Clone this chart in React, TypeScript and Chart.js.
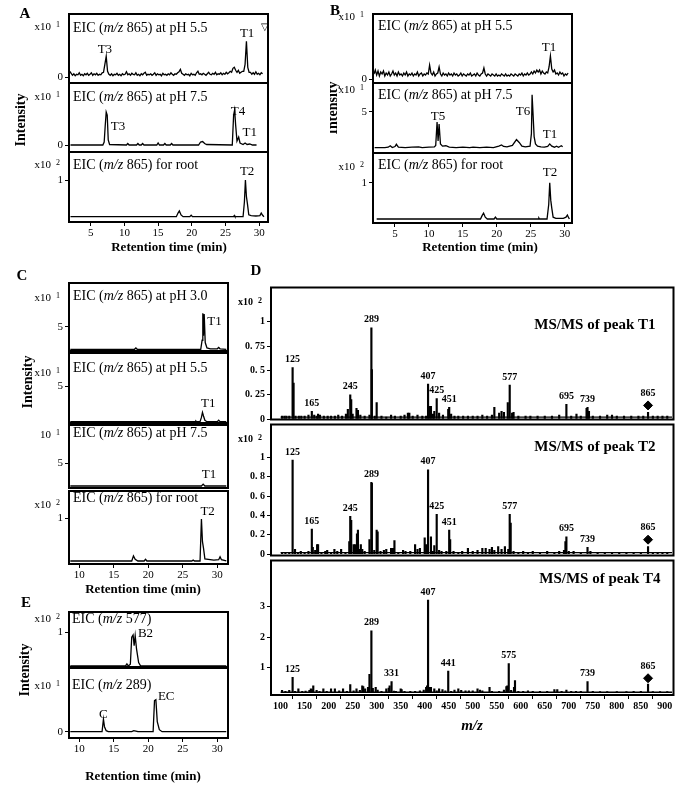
import React, { useEffect, useRef } from 'react';
import { Chart, registerables } from 'chart.js';
Chart.register(...registerables);

const SERIF = '"Liberation Serif", "Times New Roman", Times, serif';
Chart.defaults.font.family = SERIF;

// ---------------- DATA ----------------
const RT_TICKS_AB = [5, 10, 15, 20, 25, 30];
const RT_TICKS_CE = [10, 15, 20, 25, 30];
const MZ_TICKS = [100, 150, 200, 250, 300, 350, 400, 450, 500, 550, 600, 650, 700, 750, 800, 850, 900];

// uniformly sampled noisy traces (start time, step in min, values)
const A1_START = 1.9;
const A1_STEP = 0.2;
const A1_PH55 = [
  0.6, 0.4, 0.2, 0.35, 0.15, 0.3, 0.25, 0.45, 0.2, 0.3,
  0.15, 0.35, 0.25, 0.4, 0.2, 0.3, 0.45, 0.2, 0.35, 0.25,
  0.4, 0.2, 0.3, 0.25, 0.45, 0.5, 1.3, 2.1, 0.6, 0.3,
  0.2, 0.35, 0.15, 0.3, 0.25, 0.4, 0.2, 0.3, 0.15, 0.35,
  0.25, 0.3, 0.55, 0.25, 0.35, 0.2, 0.4, 0.3, 0.25, 0.45,
  0.2, 0.3, 0.15, 0.35, 0.25, 0.4, 0.5, 0.2, 0.3, 0.25,
  0.35, 0.2, 0.3, 0.45, 0.2, 0.35, 0.25, 0.3, 0.15, 0.4,
  0.25, 0.3, 0.2, 0.35, 0.25, 0.45, 0.3, 0.2, 0.35, 0.3,
  0.45, 0.55, 0.8, 0.4, 0.3, 0.2, 0.35, 0.25, 0.3, 0.15,
  0.4, 0.25, 0.3, 0.2, 0.45, 0.6, 0.3, 0.35, 0.25, 0.4,
  0.3, 0.2, 0.35, 0.5, 0.3, 0.25, 0.4, 0.3, 0.5, 0.25,
  0.35, 0.3, 0.45, 0.25, 0.4, 0.3, 0.5, 0.35, 0.45, 0.6,
  0.5, 0.9, 1.0, 0.7, 0.5, 0.7, 0.4, 0.5, 0.6, 0.6,
  1.3, 3.6, 1.0, 0.5, 0.5, 0.3, 0.45, 0.3, 0.55, 0.3,
  0.4, 0.25, 0.45, 0.35,
];
const B1_START = 1.9;
const B1_STEP = 0.2;
const B1_PH55 = [
  0.5, 0.9, 0.4, 0.8, 0.3, 0.7, 0.5, 0.8, 0.3, 0.6,
  0.4, 0.7, 0.3, 0.5, 0.8, 0.4, 0.6, 0.3, 0.7, 0.4,
  0.5, 0.3, 0.6, 0.4, 0.7, 0.3, 0.5, 0.4, 0.6, 0.3,
  0.5, 0.4, 0.7, 0.3, 0.5, 0.6, 0.3, 0.5, 0.4, 0.6,
  0.5, 1.4, 0.6, 0.4, 0.7, 0.3, 0.5, 0.6, 1.2, 0.5,
  0.3, 0.6, 0.4, 0.5, 0.3, 0.6, 0.4, 0.5, 0.3, 0.6,
  0.4, 0.5, 0.3, 0.4, 0.6, 0.3, 0.5, 0.4, 0.3, 0.5,
  0.4, 0.6, 0.3, 0.4, 0.5, 0.3, 0.6, 0.4, 0.3, 0.5,
  0.6, 1.1, 0.5, 0.3, 0.5, 0.4, 0.3, 0.5, 0.4, 0.3,
  0.5, 0.3, 0.4, 0.3, 0.5, 0.4, 0.3, 0.5, 0.3, 0.4,
  0.3, 0.5, 0.4, 0.3, 0.5, 0.4, 0.3, 0.5, 0.4, 0.6,
  0.3, 0.5, 0.4, 0.6, 0.4, 0.5, 0.7, 0.5, 0.8, 0.6,
  0.9, 0.7, 0.9, 0.5, 0.8, 0.6, 0.5, 0.7, 0.6, 1.2,
  2.3, 1.0, 0.7, 0.9, 0.5, 0.6, 0.4, 0.7, 0.5, 0.6,
  0.3, 0.5, 0.4, 0.6,
];

// [retention time, intensity] pairs
const A2_PH75: [number, number][] = [
  [2.0, 0], [6.8, 0], [7.0, 0.3], [7.15, 1.9], [7.3, 3.3], [7.45, 3.0], [7.6, 0.5], [7.8, 0.05],
  [10.3, 0], [10.5, 0.15], [10.7, 0], [11.8, 0], [12.0, 0.15], [12.2, 0], [12.5, 0], [12.7, 0.15], [12.9, 0],
  [14.8, 0], [15.0, 0.2], [15.2, 0], [15.8, 0], [16.0, 0.15], [16.2, 0], [16.8, 0], [17.0, 0.15], [17.2, 0],
  [21.0, 0], [21.3, 0.3], [21.6, 0.35], [21.9, 0.15], [22.2, 0.05], [26.0, 0], [26.2, 3.0], [26.35, 3.5],
  [26.5, 2.0], [26.7, 0.4], [26.95, 0.8], [27.15, 0.2], [27.6, 0.05], [27.9, 0.2], [28.2, 0.05], [28.6, 0.1],
  [29.0, 0], [29.6, 0],
];
const A3_ROOT: [number, number][] = [
  [2.0, 0], [17.7, 0], [17.95, 0.1], [18.15, 0.16], [18.4, 0.05], [18.7, 0], [19.7, 0], [19.9, 0.04], [20.1, 0],
  [26.2, 0], [26.3, 0.03], [26.4, 0], [27.6, 0], [27.8, 0.4], [27.95, 1.0], [28.1, 0.55], [28.25, 0.35],
  [28.45, 0.05], [28.8, 0.03], [29.5, 0.02], [30.1, 0.03], [30.3, 0.1], [30.5, 0.04], [30.7, 0],
];
const B2_PH75: [number, number][] = [
  [2.0, 0.1], [3.5, 0.1], [4.0, 0.15], [4.3, 0.35], [4.6, 0.1], [5.0, 0.25], [5.2, 0.55], [5.5, 0.15],
  [6.5, 0.1], [7.5, 0.15], [8.5, 0.2], [9.0, 0.1], [10.0, 0.15], [10.8, 0.2], [11.0, 0.4], [11.2, 3.6],
  [11.35, 1.0], [11.5, 3.3], [11.7, 0.6], [12.0, 0.3], [12.5, 0.35], [13.0, 0.15], [14.0, 0.1], [15.0, 0.15],
  [16.0, 0.1], [16.5, 0.15], [17.5, 0.1], [18.5, 0.15], [19.5, 0.1], [20.3, 0.3], [20.7, 0.45], [21.0, 0.25],
  [21.5, 0.2], [22.3, 0.4], [22.9, 1.2], [23.3, 0.8], [23.7, 0.3], [24.2, 0.2], [24.9, 0.3], [25.1, 2.0],
  [25.2, 7.3], [25.35, 4.5], [25.5, 1.6], [25.7, 0.6], [26.0, 0.3], [26.5, 0.2], [27.0, 0.15], [27.5, 0.25],
  [27.8, 0.6], [28.1, 0.3], [28.5, 0.15], [28.8, 0.3], [29.1, 0.15], [29.5, 0.35], [29.7, 0.2],
];
const B3_ROOT: [number, number][] = [
  [2.3, 0], [17.6, 0], [17.85, 0.1], [18.05, 0.16], [18.3, 0.05], [18.6, 0], [19.6, 0], [19.8, 0.05], [20.0, 0],
  [26.1, 0], [26.2, 0.03], [26.3, 0], [27.4, 0], [27.65, 0.4], [27.8, 1.0], [27.95, 0.52], [28.1, 0.3],
  [28.3, 0.05], [28.7, 0.02], [29.8, 0.02], [30.2, 0.05], [30.4, 0.11], [30.6, 0.03], [30.7, 0],
];
const C1_PH30: [number, number][] = [
  [8.7, 0], [18.0, 0], [18.2, 0.3], [18.4, 0], [27.6, 0], [27.8, 2.0], [27.9, 8.0], [28.0, 3.0], [28.1, 7.8],
  [28.25, 1.5], [28.5, 0.3], [29.0, 0.1], [30.0, 0.1], [30.2, 0.4], [30.4, 0.1], [31.3, 0],
];
const C2_PH55: [number, number][] = [
  [8.7, 0], [26.8, 0], [26.9, 0.1], [27.0, 0], [27.5, 0], [27.7, 0.6], [27.85, 1.3], [28.0, 0.8], [28.2, 0.2],
  [28.5, 0], [30.0, 0], [30.2, 0.2], [30.4, 0], [31.3, 0],
];
const C3_PH75: [number, number][] = [
  [8.7, 0], [27.7, 0], [27.95, 0.4], [28.2, 0], [31.3, 0],
];
const C4_ROOT: [number, number][] = [
  [8.7, 0], [17.6, 0], [17.85, 0.12], [18.1, 0.04], [18.5, 0], [19.4, 0], [19.6, 0.04], [19.8, 0],
  [26.3, 0], [26.5, 0.02], [26.7, 0], [27.5, 0], [27.7, 0.98], [27.85, 0.45], [28.0, 0.3], [28.2, 0.05],
  [29.5, 0.02], [30.2, 0.03], [30.4, 0.1], [30.6, 0.03], [31.3, 0],
];
const E1_MZ577: [number, number][] = [
  [8.7, 0], [16.7, 0], [16.9, 0.06], [17.1, 0], [17.4, 0.05], [17.6, 0.85], [17.8, 0.92], [17.95, 0.6],
  [18.1, 0.9], [18.3, 0.5], [18.6, 0.1], [18.9, 0], [31.3, 0],
];
const E2_MZ289: [number, number][] = [
  [8.7, 0], [13.3, 0], [13.5, 1.25], [13.65, 0.5], [13.9, 0.1], [14.2, 0], [17.6, 0], [17.9, 0.1],
  [18.2, 0.05], [18.5, 0], [20.7, 0], [20.9, 3.1], [21.1, 3.2], [21.3, 1.0], [21.6, 0.2], [22.0, 0], [31.3, 0],
];

// MS/MS spectra: [m/z, relative intensity]
const D1_T1: [number, number][] = [
  [103, 0.03], [108, 0.03], [112, 0.03], [118, 0.03], [125, 0.53], [127, 0.37], [131, 0.03], [138, 0.03],
  [143, 0.03], [150, 0.03], [158, 0.04], [165, 0.08], [170, 0.04], [175, 0.03], [178, 0.05], [182, 0.04],
  [190, 0.03], [198, 0.03], [205, 0.03], [213, 0.03], [220, 0.04], [228, 0.03], [236, 0.05], [240, 0.1],
  [245, 0.25], [247, 0.2], [250, 0.05], [258, 0.11], [261, 0.09], [266, 0.04], [275, 0.03], [285, 0.04],
  [289, 0.94], [290, 0.51], [296, 0.03], [300, 0.17], [310, 0.03], [320, 0.02], [330, 0.04], [338, 0.03],
  [350, 0.03], [358, 0.04], [365, 0.06], [368, 0.06], [375, 0.03], [385, 0.04], [395, 0.03], [403, 0.03],
  [407, 0.36], [410, 0.13], [413, 0.13], [417, 0.05], [420, 0.08], [425, 0.21], [430, 0.06], [438, 0.04],
  [449, 0.1], [451, 0.12], [455, 0.05], [462, 0.03], [470, 0.03], [480, 0.03], [490, 0.03], [500, 0.03],
  [510, 0.03], [520, 0.04], [530, 0.03], [540, 0.04], [545, 0.12], [555, 0.06], [560, 0.08], [565, 0.07],
  [573, 0.17], [577, 0.35], [582, 0.06], [585, 0.07], [595, 0.03], [610, 0.03], [620, 0.03], [635, 0.03],
  [650, 0.03], [665, 0.03], [680, 0.04], [695, 0.15], [705, 0.03], [716, 0.05], [725, 0.03], [737, 0.11],
  [739, 0.12], [742, 0.08], [750, 0.03], [765, 0.03], [780, 0.04], [790, 0.04], [800, 0.03], [815, 0.03],
  [830, 0.03], [845, 0.03], [855, 0.03], [865, 0.07], [875, 0.03], [885, 0.03], [895, 0.03], [905, 0.03],
];
const D2_T2: [number, number][] = [
  [103, 0.02], [110, 0.02], [118, 0.02], [125, 0.97], [130, 0.05], [136, 0.02], [142, 0.03], [150, 0.02],
  [158, 0.03], [165, 0.26], [167, 0.07], [172, 0.04], [176, 0.1], [178, 0.1], [185, 0.02], [193, 0.03],
  [197, 0.04], [205, 0.02], [212, 0.05], [218, 0.03], [226, 0.05], [235, 0.02], [243, 0.13], [245, 0.39],
  [247, 0.35], [252, 0.1], [255, 0.1], [259, 0.21], [261, 0.25], [264, 0.05], [267, 0.1], [270, 0.05],
  [275, 0.03], [285, 0.15], [289, 0.74], [290, 0.73], [295, 0.04], [300, 0.25], [302, 0.23], [308, 0.03],
  [315, 0.04], [320, 0.05], [330, 0.06], [334, 0.06], [337, 0.14], [345, 0.02], [355, 0.04], [360, 0.03],
  [370, 0.03], [380, 0.1], [385, 0.05], [390, 0.06], [400, 0.17], [403, 0.1], [407, 0.87], [413, 0.18],
  [417, 0.03], [420, 0.09], [425, 0.41], [430, 0.04], [435, 0.03], [445, 0.03], [451, 0.25], [453, 0.15],
  [460, 0.03], [470, 0.02], [478, 0.03], [490, 0.06], [500, 0.03], [510, 0.04], [520, 0.06], [527, 0.06],
  [535, 0.05], [540, 0.07], [545, 0.04], [553, 0.08], [560, 0.05], [567, 0.08], [574, 0.05], [577, 0.41],
  [579, 0.32], [585, 0.03], [595, 0.02], [605, 0.03], [615, 0.02], [625, 0.03], [640, 0.02], [655, 0.03],
  [670, 0.02], [680, 0.03], [690, 0.04], [693, 0.13], [695, 0.18], [700, 0.03], [710, 0.03], [725, 0.02],
  [739, 0.07], [745, 0.03], [760, 0.02], [775, 0.02], [790, 0.02], [805, 0.02], [820, 0.02], [835, 0.02],
  [850, 0.02], [865, 0.08], [875, 0.02], [885, 0.02], [895, 0.02], [905, 0.02],
];
const D3_T4: [number, number][] = [
  [103, 0.25], [110, 0.22], [118, 0.25], [125, 0.68], [130, 0.22], [137, 0.3], [145, 0.22], [152, 0.23],
  [160, 0.25], [163, 0.3], [166, 0.28], [168, 0.4], [175, 0.25], [181, 0.22], [189, 0.3], [196, 0.22],
  [205, 0.3], [213, 0.3], [222, 0.24], [230, 0.3], [238, 0.22], [245, 0.44], [252, 0.24], [258, 0.3],
  [265, 0.25], [270, 0.4], [272, 0.38], [276, 0.3], [282, 0.35], [285, 0.78], [289, 2.21], [292, 0.32],
  [298, 0.35], [302, 0.26], [310, 0.22], [320, 0.3], [325, 0.33], [327, 0.4], [331, 0.54], [336, 0.23],
  [340, 0.22], [350, 0.3], [352, 0.28], [358, 0.22], [370, 0.22], [380, 0.22], [390, 0.24], [398, 0.26],
  [403, 0.35], [405, 0.4], [407, 3.22], [410, 0.35], [413, 0.35], [420, 0.3], [425, 0.24], [430, 0.3],
  [437, 0.28], [443, 0.24], [449, 0.89], [455, 0.22], [462, 0.26], [470, 0.3], [476, 0.25], [485, 0.24],
  [492, 0.24], [500, 0.24], [510, 0.3], [515, 0.26], [520, 0.24], [535, 0.35], [540, 0.22], [555, 0.22],
  [565, 0.26], [570, 0.38], [572, 0.4], [575, 1.13], [580, 0.25], [586, 0.35], [588, 0.57], [595, 0.22],
  [605, 0.22], [615, 0.24], [625, 0.22], [640, 0.22], [655, 0.22], [670, 0.28], [676, 0.28], [685, 0.22],
  [695, 0.26], [705, 0.22], [715, 0.22], [725, 0.22], [739, 0.54], [750, 0.22], [765, 0.21], [780, 0.21],
  [800, 0.21], [820, 0.21], [835, 0.22], [850, 0.22], [865, 0.46], [875, 0.21], [890, 0.21], [905, 0.21],
];
// precursor marker (m/z 865) heights
const D1_PRECURSOR: [number, number] = [865, 0.14];
const D2_PRECURSOR: [number, number] = [865, 0.15];
const D3_PRECURSOR: [number, number] = [865, 0.65];
// labelled fragments: [m/z position, label]
const D1_PEAKS: [number, string][] = [
  [125, '125'], [165, '165'], [245, '245'], [289, '289'], [407, '407'], [425, '425'], [451, '451'],
  [577, '577'], [695, '695'], [739, '739'], [865, '865'],
];
const D2_PEAKS: [number, string][] = [
  [125, '125'], [165, '165'], [245, '245'], [289, '289'], [407, '407'], [425, '425'], [451, '451'],
  [577, '577'], [695, '695'], [739, '739'], [865, '865'],
];
const D3_PEAKS: [number, string][] = [
  [125, '125'], [289, '289'], [331, '331'], [407, '407'], [449, '441'], [575, '575'], [739, '739'], [865, '865'],
];

// ---------------- LAYOUT ----------------
const PAD_L = 48;
const PAD_R = 3;
const PAD_T = 3;
const PAD_B = 3;
const PAD_X = 22;

type Part = [string, boolean];
type Title = { parts: Part[]; dx: number; dy: number; size: number; bold?: boolean; right?: boolean };
type Label = { t: string; x: number; y: number; size?: number };
type Spectrum = { sticks: [number, number][]; base: number; floor: number; precursor: [number, number]; peaks: [number, string][] };
type Spec = {
  id: string;
  box: [number, number, number, number];
  xr: [number, number];
  yr: [number, number];
  xTicks?: number[];
  yTicks: number[];
  yFmt?: (v: number) => string;
  mult?: { base: string; exp: string; dy: number };
  title: Title;
  labels?: Label[];
  line?: [number, number][];
  spectrum?: Spectrum;
  tickSize: number;
  tickBold: boolean;
};

const eic = (rest: string, dy: number, dx = 4): Title => ({
  parts: [['EIC (', false], ['m/z', true], [rest, false]], dx, dy, size: 14,
});
const uni = (start: number, step: number, vals: number[]): [number, number][] =>
  vals.map((v, i) => [start + i * step, v]);
const frac = (v: number) => (v === 0 || v === 1 ? String(v) : '0. ' + String(v).split('.')[1]);

const A_X: [number, number] = [1.78, 31.3];
const B_X: [number, number] = [1.76, 31.08];
const C_X: [number, number] = [8.51, 31.55];
const D_X: [number, number] = [80, 918];

const SPECS: Spec[] = [
  {
    id: 'A1', box: [69, 14, 268, 83], xr: A_X, yr: [-0.57, 6.33], yTicks: [0],
    mult: { base: 'x10', exp: '1', dy: 13 }, title: eic(' 865) at pH 5.5', 14),
    labels: [{ t: 'T3', x: 7.1, y: 2.8 }, { t: 'T1', x: 28.2, y: 4.4 }, { t: '▽', x: 30.86, y: 5.0, size: 10 }],
    line: uni(A1_START, A1_STEP, A1_PH55), tickSize: 11, tickBold: false,
  },
  {
    id: 'A2', box: [69, 83, 268, 152], xr: A_X, yr: [-0.7, 6.2], yTicks: [0],
    mult: { base: 'x10', exp: '1', dy: 14 }, title: eic(' 865) at pH 7.5', 14),
    labels: [{ t: 'T4', x: 26.85, y: 3.3 }, { t: 'T3', x: 9.05, y: 1.8 }, { t: 'T1', x: 28.6, y: 1.2 }],
    line: A2_PH75, tickSize: 11, tickBold: false,
  },
  {
    id: 'A3', box: [69, 152, 268, 222], xr: A_X, yr: [-0.144, 1.763], yTicks: [1], xTicks: RT_TICKS_AB,
    mult: { base: 'x10', exp: '2', dy: 13 }, title: eic(' 865) for root', 13),
    labels: [{ t: 'T2', x: 28.2, y: 1.22 }],
    line: A3_ROOT, tickSize: 11, tickBold: false,
  },
  {
    id: 'B1', box: [373, 14, 572, 83], xr: B_X, yr: [-0.4, 6.5], yTicks: [0],
    mult: { base: 'x10', exp: '1', dy: 3 }, title: eic(' 865) at pH 5.5', 12, 5),
    labels: [{ t: 'T1', x: 27.7, y: 3.1 }],
    line: uni(B1_START, B1_STEP, B1_PH55), tickSize: 11, tickBold: false,
  },
  {
    id: 'B2', box: [373, 83, 572, 153], xr: B_X, yr: [-0.64, 8.92], yTicks: [5],
    mult: { base: 'x10', exp: '1', dy: 7 }, title: eic(' 865) at pH 7.5', 12, 5),
    labels: [{ t: 'T5', x: 11.33, y: 4.3 }, { t: 'T6', x: 23.85, y: 4.96 }, { t: 'T1', x: 27.83, y: 1.82 }],
    line: B2_PH75, tickSize: 11, tickBold: false,
  },
  {
    id: 'B3', box: [373, 153, 572, 223], xr: B_X, yr: [-0.11, 1.82], yTicks: [1], xTicks: RT_TICKS_AB,
    mult: { base: 'x10', exp: '2', dy: 14 }, title: eic(' 865) for root', 12, 5),
    labels: [{ t: 'T2', x: 27.83, y: 1.27 }],
    line: B3_ROOT, tickSize: 11, tickBold: false,
  },
  {
    id: 'C1', box: [69, 283, 228, 351], xr: C_X, yr: [-0.38, 14.7], yTicks: [5],
    mult: { base: 'x10', exp: '1', dy: 15 }, title: eic(' 865) at pH 3.0', 13),
    labels: [{ t: 'T1', x: 29.6, y: 6.1 }],
    line: C1_PH30, tickSize: 11, tickBold: false,
  },
  {
    id: 'C2', box: [69, 353, 228, 423], xr: C_X, yr: [-0.18, 9.63], yTicks: [5],
    mult: { base: 'x10', exp: '1', dy: 20 }, title: eic(' 865) at pH 5.5', 15),
    labels: [{ t: 'T1', x: 28.7, y: 2.6 }],
    line: C2_PH55, tickSize: 11, tickBold: false,
  },
  {
    id: 'C3', box: [69, 425, 228, 488], xr: C_X, yr: [-0.44, 13.4], yTicks: [5],
    mult: { base: '10', exp: '1', dy: 10 }, title: eic(' 865) at pH 7.5', 8),
    labels: [{ t: 'T1', x: 28.8, y: 2.4 }],
    line: C3_PH75, tickSize: 11, tickBold: false,
  },
  {
    id: 'C4', box: [69, 491, 228, 564], xr: C_X, yr: [-0.07, 1.63], yTicks: [1], xTicks: RT_TICKS_CE,
    mult: { base: 'x10', exp: '2', dy: 14 }, title: eic(' 865) for root', 7),
    labels: [{ t: 'T2', x: 28.6, y: 1.16 }],
    line: C4_ROOT, tickSize: 11, tickBold: false,
  },
  {
    id: 'E1', box: [69, 612, 228, 667], xr: C_X, yr: [-0.03, 1.6], yTicks: [1],
    mult: { base: 'x10', exp: '2', dy: 7 }, title: eic(' 577)', 7, 3),
    labels: [{ t: 'B2', x: 19.6, y: 0.95 }],
    line: E1_MZ577, tickSize: 11, tickBold: false,
  },
  {
    id: 'E2', box: [69, 668, 228, 738], xr: C_X, yr: [-0.63, 6.37], yTicks: [0], xTicks: RT_TICKS_CE,
    mult: { base: 'x10', exp: '1', dy: 18 }, title: eic(' 289)', 17, 3),
    labels: [{ t: 'C', x: 13.5, y: 1.67 }, { t: 'EC', x: 22.6, y: 3.47 }],
    line: E2_MZ289, tickSize: 11, tickBold: false,
  },
  {
    id: 'D1', box: [271, 285, 676, 422], xr: D_X, yr: [-0.005, 1.354], yTicks: [0, 0.25, 0.5, 0.75, 1], yFmt: frac,
    mult: { base: 'x10', exp: '2', dy: 15 },
    title: { parts: [['MS/MS of peak T1', false]], dx: 18, dy: 38, size: 15, bold: true, right: true },
    spectrum: { sticks: D1_T1, base: 0, floor: 0.02, precursor: D1_PRECURSOR, peaks: D1_PEAKS },
    tickSize: 10, tickBold: true,
  },
  {
    id: 'D2', box: [271, 422, 676, 558], xr: D_X, yr: [-0.013, 1.337], yTicks: [0, 0.2, 0.4, 0.6, 0.8, 1], yFmt: frac,
    mult: { base: 'x10', exp: '2', dy: 15 },
    title: { parts: [['MS/MS of peak T2', false]], dx: 18, dy: 23, size: 15, bold: true, right: true },
    spectrum: { sticks: D2_T2, base: 0, floor: 0.016, precursor: D2_PRECURSOR, peaks: D2_PEAKS },
    tickSize: 10, tickBold: true,
  },
  {
    id: 'D3', box: [271, 558, 676, 695], xr: D_X, yr: [0.1, 4.52], yTicks: [1, 2, 3], xTicks: MZ_TICKS,
    title: { parts: [['MS/MS of peak T4', false]], dx: 13, dy: 19, size: 15, bold: true, right: true },
    spectrum: { sticks: D3_T4, base: 0.19, floor: 0.19, precursor: D3_PRECURSOR, peaks: D3_PEAKS },
    tickSize: 10, tickBold: true,
  },
];

// ---------------- CHART ----------------
function font(size: number, bold = false, italic = false) {
  return `${italic ? 'italic ' : ''}${bold ? 'bold ' : ''}${size}px ${SERIF}`;
}

function decorPlugin(spec: Spec) {
  return {
    id: 'decor' + spec.id,
    afterDraw(chart: any) {
      const { ctx, chartArea: ca, scales } = chart;
      ctx.save();
      ctx.fillStyle = '#000';
      ctx.strokeStyle = '#000';
      ctx.lineWidth = 2;
      ctx.strokeRect(ca.left, ca.top, ca.right - ca.left, ca.bottom - ca.top);

      if (spec.mult) {
        const y = ca.top + spec.mult.dy;
        ctx.textBaseline = 'middle';
        ctx.textAlign = 'right';
        ctx.font = font(spec.tickSize, spec.tickBold);
        ctx.fillText(spec.mult.base, ca.left - 18, y);
        ctx.textAlign = 'left';
        ctx.font = font(8, spec.tickBold);
        ctx.fillText(spec.mult.exp, ca.left - 13, y - 2);
      }

      // title
      const tt = spec.title;
      ctx.textBaseline = 'middle';
      ctx.textAlign = 'left';
      let total = 0;
      for (const [s, it] of tt.parts) {
        ctx.font = font(tt.size, !!tt.bold, it);
        total += ctx.measureText(s).width;
      }
      let x = tt.right ? ca.right - tt.dx - total : ca.left + tt.dx;
      const ty = ca.top + tt.dy;
      for (const [s, it] of tt.parts) {
        ctx.font = font(tt.size, !!tt.bold, it);
        ctx.fillText(s, x, ty);
        x += ctx.measureText(s).width;
      }

      // peak labels (chromatograms)
      ctx.textAlign = 'center';
      for (const lb of spec.labels || []) {
        ctx.font = font(lb.size || 13);
        ctx.fillText(lb.t, scales.x.getPixelForValue(lb.x), scales.y.getPixelForValue(lb.y));
      }

      // fragment labels (spectra)
      if (spec.spectrum) {
        const sp = spec.spectrum;
        ctx.font = font(10, true);
        for (const [mz, txt] of sp.peaks) {
          let top = -Infinity;
          let off = 8;
          for (const [m, v] of sp.sticks) if (Math.abs(m - mz) <= 2.5 && v > top) top = v;
          if (Math.abs(sp.precursor[0] - mz) <= 2.5) {
            top = sp.precursor[1];
            off = 12;
          }
          ctx.fillText(txt, scales.x.getPixelForValue(mz), scales.y.getPixelForValue(top) - off);
        }
      }
      ctx.restore();
    },
  };
}

function makeConfig(spec: Spec): any {
  const hasX = !!spec.xTicks;
  const tickFont = { size: spec.tickSize, weight: spec.tickBold ? 'bold' : 'normal', family: SERIF };
  const datasets: any[] = [];
  if (spec.line) {
    datasets.push({
      type: 'line',
      data: spec.line.map(([x, y]) => ({ x, y })),
      borderColor: '#000',
      borderWidth: 1.3,
      pointRadius: 0,
      tension: 0,
      fill: false,
    });
  }
  if (spec.spectrum) {
    const sp = spec.spectrum;
    datasets.push({
      type: 'bar',
      data: sp.sticks.map(([x, y]) => ({ x, y })),
      backgroundColor: '#000',
      borderWidth: 0,
      barThickness: 1.5,
      base: sp.base,
    });
    datasets.push({
      type: 'line',
      data: [{ x: 100, y: sp.floor }, { x: 915, y: sp.floor }],
      borderColor: '#000',
      borderWidth: 1.3,
      pointRadius: 0,
    });
    datasets.push({
      type: 'line',
      data: [{ x: sp.precursor[0], y: sp.precursor[1] }],
      showLine: false,
      pointStyle: 'rectRot',
      pointRadius: 4.5,
      pointBackgroundColor: '#000',
      pointBorderColor: '#000',
    });
  }
  return {
    type: spec.spectrum ? 'bar' : 'line',
    data: { datasets },
    options: {
      responsive: false,
      animation: false,
      events: [],
      layout: { padding: { left: 0, right: PAD_R, top: PAD_T, bottom: hasX ? 0 : PAD_B } },
      plugins: { legend: { display: false }, tooltip: { enabled: false } },
      scales: {
        x: {
          type: 'linear',
          min: spec.xr[0],
          max: spec.xr[1],
          offset: false,
          display: hasX,
          grid: { display: true, drawOnChartArea: false, drawTicks: true, tickLength: 4, color: '#000', lineWidth: 1 },
          border: { display: false },
          ticks: { color: '#000', font: tickFont, maxRotation: 0, autoSkip: false, padding: 1, callback: (v: number) => String(v) },
          afterBuildTicks: (s: any) => { s.ticks = (spec.xTicks || []).map((v) => ({ value: v })); },
          afterFit: (s: any) => {
            s.height = hasX ? PAD_X : 0;
            s.paddingLeft = 0;
            s.paddingRight = 0;
            s.paddingTop = 0;
            s.paddingBottom = 0;
          },
        },
        y: {
          type: 'linear',
          min: spec.yr[0],
          max: spec.yr[1],
          grid: { display: true, drawOnChartArea: false, drawTicks: true, tickLength: 4, color: '#000', lineWidth: 1 },
          border: { display: false },
          ticks: {
            color: '#000', font: tickFont, padding: 2, autoSkip: false,
            callback: (v: number) => (spec.yFmt ? spec.yFmt(v) : String(v)),
          },
          afterBuildTicks: (s: any) => { s.ticks = spec.yTicks.map((v) => ({ value: v })); },
          afterFit: (s: any) => {
            s.width = PAD_L;
            s.paddingTop = 0;
            s.paddingBottom = 0;
            s.paddingLeft = 0;
            s.paddingRight = 0;
          },
        },
      },
    },
    plugins: [decorPlugin(spec)],
  };
}

function PanelChart({ spec }: { spec: Spec }) {
  const ref = useRef<HTMLCanvasElement | null>(null);
  const [l, t, r, b] = spec.box;
  const hasX = !!spec.xTicks;
  const W = PAD_L + (r - l) + PAD_R;
  const H = PAD_T + (b - t) + (hasX ? PAD_X : PAD_B);
  useEffect(() => {
    const chart = new Chart(ref.current as HTMLCanvasElement, makeConfig(spec));
    return () => chart.destroy();
  }, [spec]);
  return (
    <canvas
      ref={ref}
      width={W}
      height={H}
      style={{ position: 'absolute', left: l - PAD_L, top: t - PAD_T, width: W, height: H }}
    />
  );
}

function Txt({ x, y, children, size = 13, bold = true, italic = false, rotate = false }: any) {
  return (
    <div
      style={{
        position: 'absolute', left: x, top: y, whiteSpace: 'nowrap', fontSize: size, lineHeight: 1,
        fontWeight: bold ? 'bold' : 'normal', fontStyle: italic ? 'italic' : 'normal', fontFamily: SERIF, color: '#000',
        transform: `translate(-50%, -50%)${rotate ? ' rotate(-90deg)' : ''}`,
      }}
    >
      {children}
    </div>
  );
}

export default function App() {
  return (
    <div style={{ position: 'absolute', left: 0, top: 0, width: 685, height: 785, background: '#fff', overflow: 'hidden', fontFamily: SERIF }}>
      {SPECS.map((s) => (
        <PanelChart key={s.id} spec={s} />
      ))}
      <Txt x={25} y={13} size={15}>A</Txt>
      <Txt x={335} y={10} size={15}>B</Txt>
      <Txt x={22} y={275} size={15}>C</Txt>
      <Txt x={256} y={270} size={15}>D</Txt>
      <Txt x={26} y={602} size={15}>E</Txt>

      <Txt x={21} y={120} size={14} rotate>Intensity</Txt>
      <div style={{ position: 'absolute', left: 330, top: 60, width: 12, height: 100, overflow: 'hidden' }}>
        <Txt x={3} y={48} size={14} rotate>Intensity</Txt>
      </div>
      <Txt x={28} y={382} size={14} rotate>Intensity</Txt>
      <Txt x={25} y={670} size={14} rotate>Intensity</Txt>

      <Txt x={169} y={246} size={13}>Retention time (min)</Txt>
      <Txt x={480} y={246} size={13}>Retention time (min)</Txt>
      <Txt x={143} y={588} size={13}>Retention time (min)</Txt>
      <Txt x={143} y={775} size={13}>Retention time (min)</Txt>
      <Txt x={472} y={725} size={15} italic>m/z</Txt>
    </div>
  );
}
